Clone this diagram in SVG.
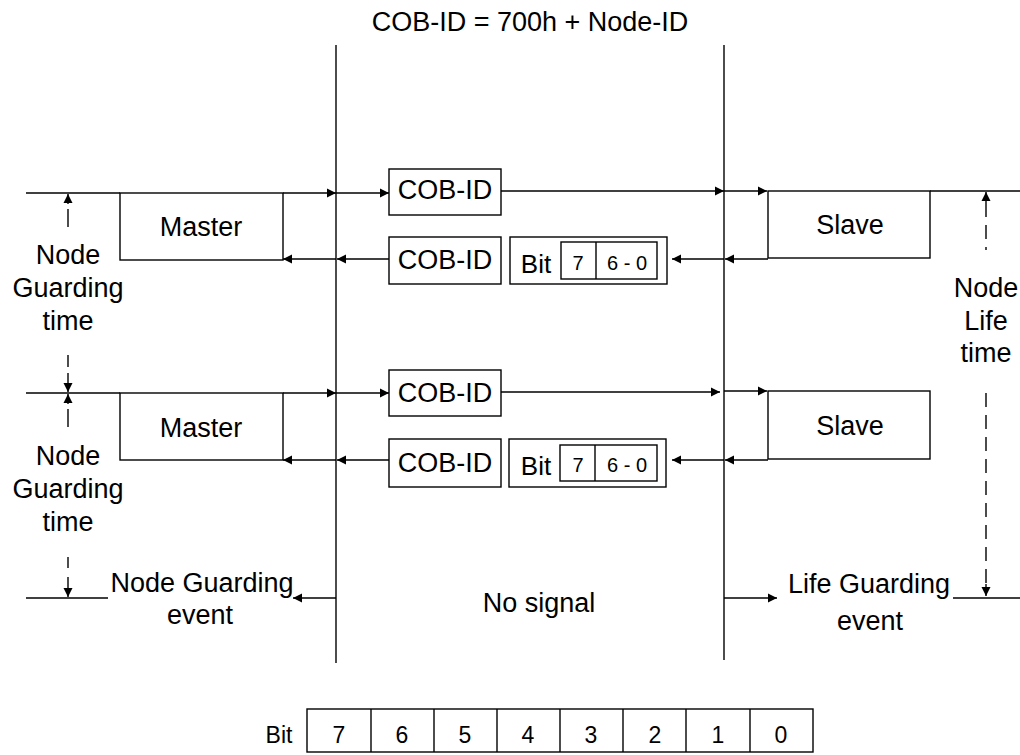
<svg xmlns="http://www.w3.org/2000/svg" width="1020" height="755" viewBox="0 0 1020 755">
<defs>
<marker id="ah" markerUnits="userSpaceOnUse" markerWidth="12" markerHeight="12" viewBox="0 0 12 12" refX="10" refY="6" orient="auto">
<path d="M1,1.5 L10,6 L1,10.5 Z" fill="#000"/>
</marker>
</defs>
<style>
text{font-family:"Liberation Sans",Arial,sans-serif;fill:#000;text-anchor:middle}
.t{font-size:27px}
.s{font-size:20px}
.b{font-size:26px}
.d{font-size:23px}
.box{fill:#fff;stroke:#000;stroke-width:1.4}
.ln{stroke:#000;stroke-width:1.4;fill:none}
.ar{stroke:#000;stroke-width:1.4;fill:none;marker-end:url(#ah)}
.ds{stroke:#000;stroke-width:1.4;fill:none}
</style>
<rect width="1020" height="755" fill="#fff"/>
<text class="t" x="530" y="31">COB-ID = 700h + Node-ID</text>

<g id="connectors">
<line class="ln" x1="336" y1="45" x2="336" y2="663"/>
<line class="ln" x1="724" y1="45" x2="724" y2="660"/>
<!-- row 1 -->
<line class="ln" x1="26" y1="193" x2="120" y2="193"/>
<line class="ar" x1="283" y1="193" x2="336" y2="193"/>
<line class="ar" x1="336" y1="193" x2="389" y2="193"/>
<line class="ar" x1="501" y1="191" x2="724" y2="191"/>
<line class="ar" x1="724" y1="191" x2="767" y2="191"/>
<line class="ln" x1="930" y1="191" x2="1020" y2="191"/>
<line class="ar" x1="768" y1="259" x2="725" y2="259"/>
<line class="ar" x1="724" y1="259" x2="672" y2="259"/>
<line class="ar" x1="389" y1="259" x2="337" y2="259"/>
<line class="ar" x1="336" y1="259" x2="283" y2="259"/>
<!-- row 2 -->
<line class="ln" x1="26" y1="393" x2="120" y2="393"/>
<line class="ar" x1="283" y1="393" x2="336" y2="393"/>
<line class="ar" x1="336" y1="393" x2="389" y2="393"/>
<line class="ar" x1="501" y1="392" x2="720" y2="392"/>
<line class="ar" x1="724" y1="391" x2="767" y2="391"/>
<line class="ar" x1="768" y1="460" x2="725" y2="460"/>
<line class="ar" x1="724" y1="460" x2="672" y2="460"/>
<line class="ar" x1="389" y1="460" x2="337" y2="460"/>
<line class="ar" x1="336" y1="460" x2="283" y2="460"/>
<!-- events -->
<line class="ln" x1="26" y1="598" x2="108" y2="598"/>
<line class="ar" x1="336" y1="598" x2="293" y2="598"/>
<line class="ar" x1="724" y1="598" x2="777" y2="598"/>
<line class="ln" x1="953" y1="598" x2="1020" y2="598"/>
<!-- left dashed timing arrows -->
<line class="ar" x1="68" y1="204" x2="68" y2="194"/>
<line class="ds" x1="68" y1="209" x2="68" y2="227"/>
<line class="ds" x1="68" y1="355" x2="68" y2="367"/>
<line class="ar" x1="68" y1="373" x2="68" y2="392"/>
<line class="ar" x1="68" y1="404" x2="68" y2="394"/>
<line class="ds" x1="68" y1="409" x2="68" y2="427"/>
<line class="ds" x1="68" y1="557" x2="68" y2="568"/>
<line class="ar" x1="68" y1="577" x2="68" y2="597"/>
<!-- right dashed timing arrow -->
<line class="ar" x1="986" y1="203" x2="986" y2="192"/>
<line class="ds" x1="986" y1="203" x2="986" y2="250" stroke-dasharray="14,8"/>
<line class="ds" x1="986" y1="393" x2="986" y2="584" stroke-dasharray="14,8"/>
<line class="ar" x1="986" y1="584" x2="986" y2="596"/>
</g>

<g id="master1"><rect class="box" x="120" y="193" width="163" height="67"/><text class="t" x="201" y="236">Master</text></g>
<g id="master2"><rect class="box" x="120" y="393" width="163" height="67"/><text class="t" x="201" y="437">Master</text></g>
<g id="slave1"><rect class="box" x="768" y="191" width="162" height="67"/><text class="t" x="850" y="234">Slave</text></g>
<g id="slave2"><rect class="box" x="768" y="391" width="162" height="68"/><text class="t" x="850" y="435">Slave</text></g>

<g id="cob1"><rect class="box" x="389" y="169" width="112" height="46"/><text class="t" x="445" y="199">COB-ID</text></g>
<g id="cob2"><rect class="box" x="389" y="237" width="112" height="47"/><text class="t" x="445" y="269">COB-ID</text></g>
<g id="cob3"><rect class="box" x="389" y="370" width="112" height="46"/><text class="t" x="445" y="402">COB-ID</text></g>
<g id="cob4"><rect class="box" x="389" y="439" width="112" height="48"/><text class="t" x="445" y="472">COB-ID</text></g>

<g id="bit1">
<rect class="box" x="510" y="237" width="157" height="47"/>
<text class="b" x="536" y="273">Bit</text>
<rect class="box" x="561" y="242" width="96" height="37"/>
<line class="ln" x1="596" y1="242" x2="596" y2="279"/>
<text class="s" x="578" y="270">7</text>
<text class="s" x="627" y="270">6 - 0</text>
</g>
<g id="bit2">
<rect class="box" x="509" y="439" width="157" height="48"/>
<text class="b" x="536" y="475">Bit</text>
<rect class="box" x="560" y="445" width="97" height="36"/>
<line class="ln" x1="595" y1="445" x2="595" y2="481"/>
<text class="s" x="578" y="472">7</text>
<text class="s" x="627" y="472">6 - 0</text>
</g>

<g id="ngt1"><text class="t" x="68" y="264">Node</text><text class="t" x="68" y="297">Guarding</text><text class="t" x="68" y="330">time</text></g>
<g id="ngt2"><text class="t" x="68" y="465">Node</text><text class="t" x="68" y="498">Guarding</text><text class="t" x="68" y="531">time</text></g>
<g id="nlt"><text class="t" x="986" y="297">Node</text><text class="t" x="986" y="330">Life</text><text class="t" x="986" y="362">time</text></g>

<g id="nge"><text class="t" x="202" y="592">Node Guarding</text><text class="t" x="200" y="624">event</text></g>
<g id="nosig"><text class="t" x="539" y="612">No signal</text></g>
<g id="lge"><text class="t" x="869" y="593">Life Guarding</text><text class="t" x="870" y="630">event</text></g>

<g id="bittable">
<text class="d" x="279" y="743">Bit</text>
<rect class="box" x="307" y="709" width="506" height="43"/>
<line class="ln" x1="371" y1="709" x2="371" y2="752"/>
<line class="ln" x1="434" y1="709" x2="434" y2="752"/>
<line class="ln" x1="497" y1="709" x2="497" y2="752"/>
<line class="ln" x1="560" y1="709" x2="560" y2="752"/>
<line class="ln" x1="623" y1="709" x2="623" y2="752"/>
<line class="ln" x1="686" y1="709" x2="686" y2="752"/>
<line class="ln" x1="750" y1="709" x2="750" y2="752"/>
<text class="d" x="339" y="743">7</text>
<text class="d" x="402" y="743">6</text>
<text class="d" x="465" y="743">5</text>
<text class="d" x="528" y="743">4</text>
<text class="d" x="591" y="743">3</text>
<text class="d" x="655" y="743">2</text>
<text class="d" x="718" y="743">1</text>
<text class="d" x="781" y="743">0</text>
</g>
</svg>
